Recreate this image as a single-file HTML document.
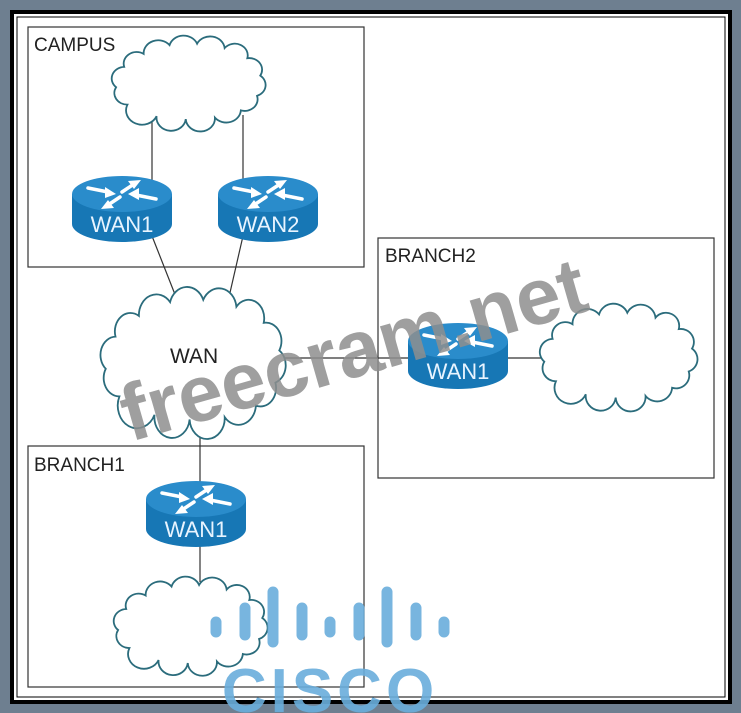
<!DOCTYPE html>
<html><head><meta charset="utf-8"><style>
html,body{margin:0;padding:0;background:#6e7f90;}
svg{display:block}
</style></head><body>
<svg width="741" height="713" viewBox="0 0 741 713" xmlns="http://www.w3.org/2000/svg">
<defs>
<path id="cl" vector-effect="non-scaling-stroke" d="M12,48 A8,8 0 0 1 5,36 A8,8 0 0 1 10,22 A8,8 0 0 1 22,13 A9,9 0 0 1 38,7 A9,9 0 0 1 55,6 A9,9 0 0 1 72,9 A8,8 0 0 1 86,16 A8,8 0 0 1 94,28 A8,8 0 0 1 92,42 A8,8 0 0 1 82,52 A9,9 0 0 1 66,57 A9,9 0 0 1 48,58 A9,9 0 0 1 30,56 A9,9 0 0 1 12,48 Z"/>
<g id="arr" stroke="#fff" stroke-width="3.5" fill="#fff" stroke-linecap="round">
<line x1="16" y1="13" x2="36" y2="17"/><polygon points="44,19 33,12 33,23" stroke="none"/>
<line x1="50" y1="17" x2="62" y2="9"/><polygon points="69,5 56,6 62,14" stroke="none"/>
<line x1="84" y1="24" x2="64" y2="20"/><polygon points="56,19 67,13 67,25" stroke="none"/>
<line x1="48" y1="22" x2="36" y2="30"/><polygon points="29,34 42,33 36,25" stroke="none"/>
</g>
<g id="rt">
<path d="M0,19 L0,49 A50,18 0 0 0 100,49 L100,19 Z" fill="#1777b5"/>
<ellipse cx="50" cy="19" rx="50" ry="18" fill="#2a8ccb"/>
<use href="#arr"/>
<text x="50" y="57" text-anchor="middle" font-family="Liberation Sans, sans-serif" font-size="22" fill="#e8f4ff">WAN1</text>
</g>
</defs>
<rect x="12" y="12" width="718" height="690" fill="#fff" stroke="#000" stroke-width="4"/>
<rect x="17" y="17" width="708" height="680" fill="none" stroke="#000" stroke-width="1"/>
<g fill="none" stroke="#333" stroke-width="1.2">
<rect x="28" y="27" width="336" height="240"/>
<rect x="378" y="238" width="336" height="240"/>
<rect x="28" y="446" width="336" height="241"/>
<line x1="152" y1="115" x2="152" y2="180"/>
<line x1="243" y1="115" x2="243" y2="180"/>
<line x1="152" y1="236" x2="176" y2="297"/>
<line x1="243" y1="236" x2="229" y2="297"/>
<line x1="285" y1="358" x2="410" y2="358"/>
<line x1="505" y1="358" x2="545" y2="358"/>
<line x1="200" y1="418" x2="200" y2="485"/>
<line x1="200" y1="540" x2="200" y2="582"/>
</g>
<g fill="#fff" stroke="#2b6c7c" stroke-width="1.8">
<use href="#cl" transform="translate(108,35) scale(1.62,1.45)"/>
<use href="#cl" transform="translate(96,286) scale(1.95,2.3)"/>
<use href="#cl" transform="translate(536,303) scale(1.66,1.63)"/>
<use href="#cl" transform="translate(110,576) scale(1.62,1.5)"/>
</g>
<use href="#rt" x="72" y="175"/>
<g transform="translate(218,175)">
<path d="M0,19 L0,49 A50,18 0 0 0 100,49 L100,19 Z" fill="#1777b5"/>
<ellipse cx="50" cy="19" rx="50" ry="18" fill="#2a8ccb"/>
<use href="#arr"/>
<text x="50" y="57" text-anchor="middle" font-family="Liberation Sans, sans-serif" font-size="22" fill="#e8f4ff">WAN2</text>
</g>
<use href="#rt" x="408" y="322"/>
<use href="#rt" x="146" y="480"/>
<g font-family="Liberation Sans, sans-serif" font-size="19" fill="#222">
<text x="34" y="51">CAMPUS</text>
<text x="385" y="262">BRANCH2</text>
<text x="34" y="471">BRANCH1</text>
<text x="170" y="363" font-size="21">WAN</text>
</g>
<text x="130" y="442" transform="rotate(-16 130 442)" font-family="Liberation Sans, sans-serif" font-weight="bold" font-size="80" fill="#8e8e8e" fill-opacity="0.85">freecram.net</text>
<g stroke="#6aaedc" stroke-width="11" stroke-linecap="round" opacity="0.9">
<line x1="216" y1="622" x2="216" y2="632"/>
<line x1="245" y1="608" x2="245" y2="635"/>
<line x1="273" y1="592" x2="273" y2="642"/>
<line x1="302" y1="608" x2="302" y2="635"/>
<line x1="330" y1="622" x2="330" y2="632"/>
<line x1="359" y1="608" x2="359" y2="635"/>
<line x1="387" y1="592" x2="387" y2="642"/>
<line x1="416" y1="608" x2="416" y2="635"/>
<line x1="444" y1="622" x2="444" y2="632"/>
</g>
<text x="330" y="712" text-anchor="middle" font-family="Liberation Sans, sans-serif" font-weight="bold" font-size="62" fill="#6aaedc" opacity="0.9" letter-spacing="4">CISCO</text>
</svg>
</body></html>
